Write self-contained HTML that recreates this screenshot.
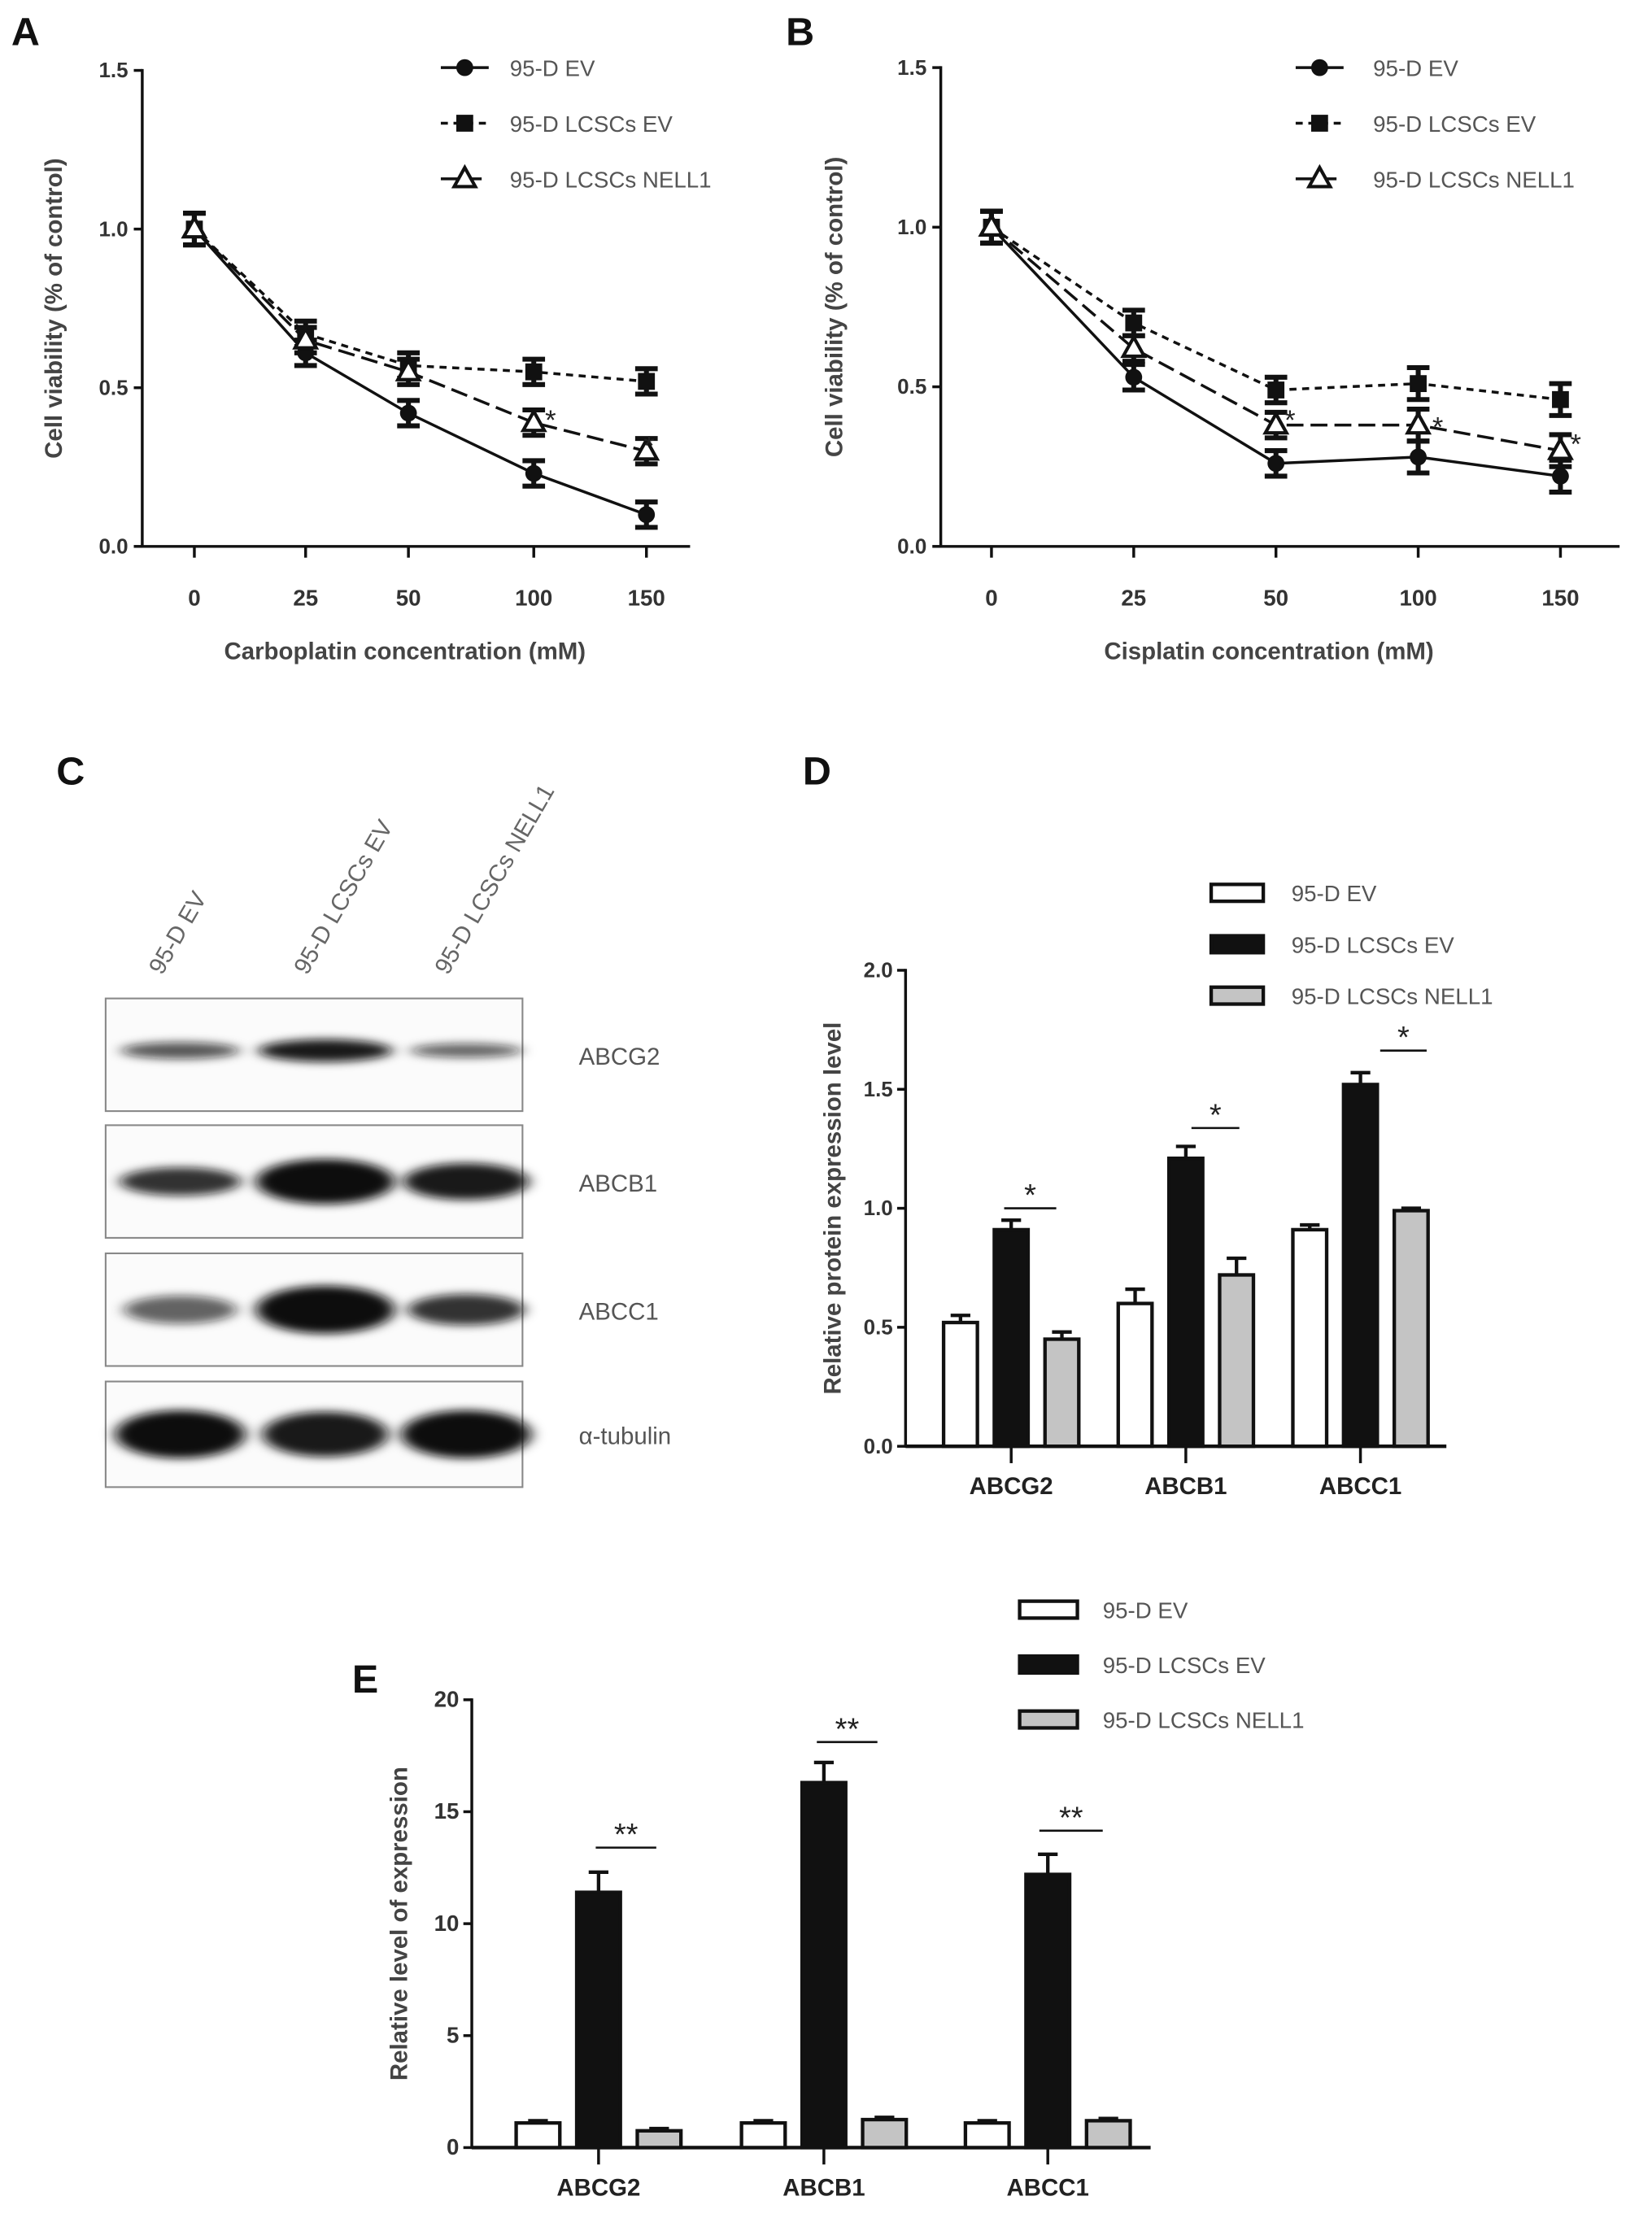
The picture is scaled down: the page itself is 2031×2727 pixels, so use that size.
<!DOCTYPE html>
<html><head><meta charset="utf-8"><style>
html,body{margin:0;padding:0;background:#fff}
svg{display:block}
text{font-family:"Liberation Sans",Arial,sans-serif}
</style></head><body>
<svg id="fig" width="2031" height="2727" viewBox="0 0 1173 1575" xmlns="http://www.w3.org/2000/svg">
<rect width="1173" height="1575" fill="#fff"/>
<g id="root"></g>
</svg>
<script>
// Panel A data
const doses = ["0","25","50","100","150"];
const seriesNames = ["95-D EV","95-D LCSCs EV","95-D LCSCs NELL1"];
const aEV = [1.0,0.61,0.42,0.23,0.10];
const aLCSC = [1.0,0.67,0.57,0.55,0.52];
const aNELL1 = [1.0,0.65,0.55,0.39,0.30];
const aErr = [0.05,0.04,0.04,0.04,0.04];
// Panel B data
const bEV = [1.0,0.53,0.26,0.28,0.22];
const bLCSC = [1.0,0.70,0.49,0.51,0.46];
const bNELL1 = [1.0,0.62,0.38,0.38,0.30];
const bErr = [0.05,0.04,0.04,0.05,0.05];
const viabTicks = [0,0.5,1.0,1.5];
// Panel D data
const genes = ["ABCG2","ABCB1","ABCC1"];
const dEV = [0.52,0.60,0.91];
const dLCSC = [0.91,1.21,1.52];
const dNELL1 = [0.45,0.72,0.99];
const dErrEV = [0.03,0.06,0.02];
const dErrLCSC = [0.04,0.05,0.05];
const dErrNELL1 = [0.03,0.07,0.01];
const dTicks = [0,0.5,1.0,1.5,2.0];
// Panel E data
const eEV = [1.1,1.1,1.1];
const eLCSC = [11.4,16.3,12.2];
const eNELL1 = [0.75,1.25,1.2];
const eErrLCSC = [0.9,0.9,0.9];
const eErrSmall = [0.1,0.1,0.1];
const eTicks = [0,5,10,15,20];

const NS="http://www.w3.org/2000/svg";
const root=document.getElementById('root');
function mk(tag,attrs,parent,txt){const e=document.createElementNS(NS,tag);for(const k in attrs)e.setAttribute(k,attrs[k]);if(txt!==undefined)e.textContent=txt;(parent||root).appendChild(e);return e;}
function line(x1,y1,x2,y2,w,dash,p){const o={x1,y1,x2,y2,stroke:'#111','stroke-width':w||2};if(dash)o['stroke-dasharray']=dash;return mk('line',o,p);}

function label(t,x,y){const e=mk('text',{x,y,'font-size':28,'font-weight':'bold',fill:'#111'},root,t);

}

function marker(kind,x,y,g){
 if(kind===0) mk('circle',{cx:x,cy:y,r:6,fill:'#111'},g);
 else if(kind===1) mk('rect',{x:x-6,y:y-6,width:12,height:12,fill:'#111'},g);
 else mk('path',{d:`M${x},${y-8} L${x+7.5},${y+5.5} L${x-7.5},${y+5.5} Z`,fill:'#fff',stroke:'#111','stroke-width':2.4},g);
}
const dashes=[null,'5,4','12,5'];

function linePanel(name,ax,xs,y0,y1,xEnd,series,err,title,ytx,stars,leg){
 const g=mk('g',{});
 
 
 const ys=v=>y0+(y1-y0)*v/1.5;
 line(ax,y1-1,ax,y0+1,2,null,g); line(ax,y0,xEnd,y0,2,null,g);
 viabTicks.forEach(t=>{line(ax-6,ys(t),ax,ys(t),2,null,g);
  const tx=mk('text',{x:ax-10,y:ys(t)+5,'font-size':15,'font-weight':'bold','text-anchor':'end',fill:'#333'},g,t.toFixed(1));
  });
 doses.forEach((d,i)=>{line(xs[i],y0,xs[i],y0+8,2,null,g);
  const tx=mk('text',{x:xs[i],y:y0+42,'font-size':16,'font-weight':'bold','text-anchor':'middle',fill:'#333'},g,d);
  });
 const xt=mk('text',{x:(ax+xEnd)/2-8,y:y0+80,'font-size':17,'font-weight':'bold','text-anchor':'middle',fill:'#444'},g,title);
 
 const yt=mk('text',{x:0,y:0,'font-size':17,'font-weight':'bold','text-anchor':'middle',fill:'#444',transform:`translate(${ytx},${(y0+y1)/2}) rotate(-90)`},g,'Cell viability (% of control)');
 
 series.forEach((s,k)=>{
  const sg=mk('g',{},g);
  
  
  const pts=s.map((v,i)=>xs[i]+','+ys(v)).join(' ');
  const pl=mk('polyline',{points:pts,fill:'none',stroke:'#111','stroke-width':2},sg);
  if(dashes[k])pl.setAttribute('stroke-dasharray',dashes[k]);
  s.forEach((v,i)=>{const e=err[i];line(xs[i],ys(v+e),xs[i],ys(v-e),3.5,null,sg);
   line(xs[i]-8,ys(v+e),xs[i]+8,ys(v+e),3.5,null,sg);line(xs[i]-8,ys(v-e),xs[i]+8,ys(v-e),3.5,null,sg);
   marker(k,xs[i],ys(v),sg);});
 });
 stars.forEach(s=>{const t=mk('text',{x:s[0],y:s[1],'font-size':20,fill:'#222'},g,'*');
  });
 seriesNames.forEach((n,k)=>{const lg=mk('g',{},g);
  
  const y=leg[1]+k*39.5;line(leg[0],y,leg[0]+34,y,2,dashes[k],lg);marker(k,leg[0]+17,y,lg);
  mk('text',{x:leg[2],y:y+6,'font-size':16,fill:'#555'},lg,n);});
}
label('A',8,32); label('B',558,32); label('C',40,557); label('D',570,557); label('E',250,1202);
linePanel('a',101,[138,217,290,379,459],388,50,490,[aEV,aLCSC,aNELL1],aErr,'Carboplatin concentration (mM)',44,[[387,305],[457,323]],[313,48,362]);
linePanel('b',668,[704,805,906,1007,1108],388,48,1150,[bEV,bLCSC,bNELL1],bErr,'Cisplatin concentration (mM)',598,[[912,305],[1017,310],[1115,322]],[920,48,975]);

// Panel C western blot
(function(){
 const g=mk('g',{});
 const defs=mk('defs',{},g);
 const f=mk('filter',{id:'blur',x:'-30%',y:'-100%',width:'160%',height:'300%'},defs);
 mk('feGaussianBlur',{stdDeviation:'5 3'},f);
 const lanes=[120,223,323];
 const lanesLbl=["95-D EV","95-D LCSCs EV","95-D LCSCs NELL1"];
 lanesLbl.forEach((t,i)=>{const tx=mk('text',{x:0,y:0,'font-size':17,fill:'#666',transform:`translate(${lanes[i]-5},${693}) rotate(-60)`},g,t);
  });
 const rows=[[709,789,'ABCG2',[[55,6,0.7],[62,8,0.95],[52,5,0.65]]],[799,879,'ABCB1',[[56,10,0.85],[64,16,1],[58,13,0.95]]],[890,970,'ABCC1',[[52,10,0.65],[64,17,1],[54,11,0.85]]],[981,1056,'α-tubulin',[[60,17,1],[58,16,0.95],[60,17,1]]]];
 rows.forEach(r=>{const rg=mk('g',{},g);
  mk('rect',{x:75,y:r[0],width:296,height:r[1]-r[0],fill:'#fbfbfb',stroke:'#888','stroke-width':1.2},rg);
  const cy=(r[0]+r[1])/2;
  r[3].forEach((b,i)=>mk('ellipse',{cx:lanes[i]+8,cy:cy+(r[2]==='ABCG2'?-3:0),rx:b[0]/1.3,ry:b[1],fill:'#111','fill-opacity':b[2],filter:'url(#blur)'},rg));
  mk('text',{x:411,y:cy+7,'font-size':17,fill:'#555'},rg,r[2]);});
})();

function barPanel(name,ax,y0,y1,xEnd,maxV,ticks,tickFmt,centers,bw,gap,vals,errs,ytitle,ytx,sig,leg,tickFs){
 const g=mk('g',{});
 const ys=v=>y0-(y0-y1)*v/maxV;
 const fills=['#fff','#111','#c4c4c4'];
 line(ax,y1-1,ax,y0+1,2,null,g);line(ax,y0,xEnd,y0,2.5,null,g);
 ticks.forEach(t=>{line(ax-6,ys(t),ax,ys(t),2,null,g);
  const tx=mk('text',{x:ax-9,y:ys(t)+5,'font-size':tickFs,'font-weight':'bold','text-anchor':'end',fill:'#333'},g,tickFmt(t));
  });
 genes.forEach((gn,i)=>{const c=centers[i];line(c,y0,c,y0+12,2,null,g);
  const tx=mk('text',{x:c,y:y0+34,'font-size':17,'font-weight':'bold','text-anchor':'middle',fill:'#222'},g,gn);
  
  vals.forEach((s,k)=>{const bx=c+(k-1)*gap-bw/2;const v=s[i],e=errs[k][i];
   const bg=mk('g',{},g);
   line(bx+bw/2,ys(v),bx+bw/2,ys(v+e),2.5,null,bg);line(bx+bw/2-7,ys(v+e),bx+bw/2+7,ys(v+e),2.5,null,bg);
   mk('rect',{x:bx,y:ys(v),width:bw,height:y0-ys(v),fill:fills[k],stroke:'#111','stroke-width':2.5},bg);});});
 const yt=mk('text',{x:0,y:0,'font-size':17,'font-weight':'bold','text-anchor':'middle',fill:'#444',transform:`translate(${ytx},${(y0+y1)/2}) rotate(-90)`},g,ytitle);
 
 sig.forEach(s=>{line(s[0],s[2],s[1],s[2],1.5,null,g);const t=mk('text',{x:(s[0]+s[1])/2,y:s[2]-2,'font-size':22,'text-anchor':'middle',fill:'#222'},g,s[3]);
  });
 seriesNames.forEach((n,k)=>{const lg=mk('g',{},g);
  const y=leg[1]+k*leg[3];mk('rect',{x:leg[0],y:y-6,width:leg[4],height:12,fill:fills[k],stroke:'#111','stroke-width':2.5},lg);
  mk('text',{x:leg[2],y:y+6,'font-size':16,fill:'#555'},lg,n);});
}
barPanel('d',643,1027,689,1027,2.0,dTicks,t=>t.toFixed(1),[718,842,966],24,36,[dEV,dLCSC,dNELL1],[dErrEV,dErrLCSC,dErrNELL1],'Relative protein expression level',597,[[713,750,858,'*'],[846,880,801,'*'],[980,1013,746,'*']],[860,634,917,36.5,37],15);
barPanel('e',335,1525,1207,817,20,eTicks,t=>String(t),[425,585,744],31,43,[eEV,eLCSC,eNELL1],[eErrSmall,eErrLCSC,eErrSmall],'Relative level of expression',289,[[423,466,1312,'**'],[580,623,1237,'**'],[738,783,1300,'**']],[724,1143,783,39,41],16);
</script>
</body></html>
